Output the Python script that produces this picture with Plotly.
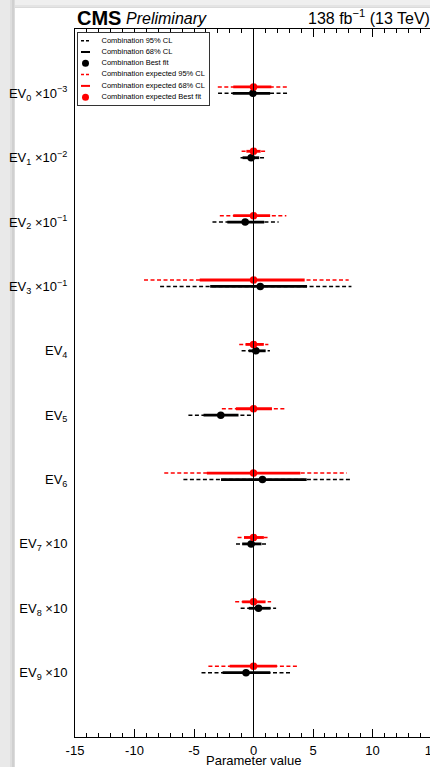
import plotly.graph_objects as go

# ---- data -------------------------------------------------------------
ev_labels = [
    "EV<sub>0</sub> ×10<sup>−3</sup>",
    "EV<sub>1</sub> ×10<sup>−2</sup>",
    "EV<sub>2</sub> ×10<sup>−1</sup>",
    "EV<sub>3</sub> ×10<sup>−1</sup>",
    "EV<sub>4</sub>",
    "EV<sub>5</sub>",
    "EV<sub>6</sub>",
    "EV<sub>7</sub> ×10",
    "EV<sub>8</sub> ×10",
    "EV<sub>9</sub> ×10",
]

# observed combination
obs_best = [-0.05, -0.20, -0.70, 0.57, 0.20, -2.75, 0.75, -0.20, 0.42, -0.63]
obs_lo68 = [-1.75, -0.92, -2.20, -3.64, -0.40, -4.20, -2.73, -0.95, -0.40, -2.60]
obs_hi68 = [1.40, 0.48, 0.90, 4.50, 1.02, -1.26, 4.47, 0.67, 1.43, 1.41]
obs_lo95 = [-2.98, -1.09, -3.45, -7.85, -1.00, -5.47, -5.89, -1.47, -1.08, -4.37]
obs_hi95 = [2.84, 0.90, 2.11, 8.23, 1.38, -0.10, 8.15, 1.16, 1.90, 3.27]

# expected combination
exp_best = [0.0, 0.0, 0.0, 0.0, 0.0, 0.0, 0.0, 0.0, 0.0, 0.0]
exp_lo68 = [-1.70, -0.60, -1.70, -4.52, -0.67, -1.48, -3.92, -0.80, -0.95, -2.00]
exp_hi68 = [1.50, 0.60, 1.40, 4.30, 0.87, 1.55, 3.94, 0.87, 1.01, 1.97]
exp_lo95 = [-3.00, -1.00, -2.83, -9.20, -1.20, -2.66, -7.50, -1.34, -1.54, -3.79]
exp_hi95 = [2.83, 1.05, 2.76, 8.00, 1.25, 2.76, 7.84, 1.34, 1.48, 3.83]

x_tick_vals = [-15, -10, -5, 0, 5, 10, 15]
x_tick_text = ["-15", "-10", "-5", "0", "5", "10", "15"]

legend_labels = [
    "Combination 95% CL",
    "Combination 68% CL",
    "Combination Best fit",
    "Combination expected 95% CL",
    "Combination expected 68% CL",
    "Combination expected Best fit",
]

# ---- geometry ---------------------------------------------------------
W, H = 450, 767
ML, MR, MT, MB = 75, 18, 29, 30
PW = W - ML - MR
PH = H - MT - MB
FONT = "Liberation Sans, Arial, Helvetica, sans-serif"
DASH = "4px,2.5px"


def paper_x(px):
    return (px - ML) / PW


def paper_y(py):
    return (H - MB - py) / PH


n = len(ev_labels)
obs_y = [i + 1 for i in range(n)]
exp_y = [y - 0.1 for y in obs_y]


def segments(lo, hi, ys):
    xs, yy = [], []
    for a, b, y in zip(lo, hi, ys):
        xs += [a, b, None]
        yy += [y, y, None]
    return xs, yy


fig = go.Figure()

for lo95, hi95, lo68, hi68, best, ys, col in [
    (obs_lo95, obs_hi95, obs_lo68, obs_hi68, obs_best, obs_y, "black"),
    (exp_lo95, exp_hi95, exp_lo68, exp_hi68, exp_best, exp_y, "#ff0000"),
]:
    sx, sy = segments(lo95, hi95, ys)
    fig.add_trace(go.Scatter(x=sx, y=sy, mode="lines",
                             line=dict(color=col, width=1.5, dash=DASH),
                             showlegend=False, hoverinfo="skip"))
    sx, sy = segments(lo68, hi68, ys)
    fig.add_trace(go.Scatter(x=sx, y=sy, mode="lines",
                             line=dict(color=col, width=2.8),
                             showlegend=False, hoverinfo="skip"))
    fig.add_trace(go.Scatter(x=best, y=ys, mode="markers",
                             marker=dict(color=col, size=7.5),
                             showlegend=False))

# ---- legend box drawn in its own small subplot ------------------------
LEG_W, LEG_H = 131, 72
rows = [7.7 + 11.3 * i for i in range(6)]
sym_x0, sym_x1, sym_xc, txt_x = 3, 12, 7.5, 23.5
leg_styles = [
    ("black", "dash"), ("black", "solid"), ("black", "dot"),
    ("#ff0000", "dash"), ("#ff0000", "solid"), ("#ff0000", "dot"),
]
for (col, kind), ry in zip(leg_styles, rows):
    if kind == "dot":
        fig.add_trace(go.Scatter(x=[sym_xc], y=[ry], mode="markers",
                                 marker=dict(color=col, size=7),
                                 xaxis="x2", yaxis="y2", showlegend=False,
                                 hoverinfo="skip"))
    else:
        fig.add_trace(go.Scatter(x=[sym_x0, sym_x1], y=[ry, ry], mode="lines",
                                 line=dict(color=col,
                                           width=1.5 if kind == "dash" else 2,
                                           dash="3px,2px" if kind == "dash" else "solid"),
                                 xaxis="x2", yaxis="y2", showlegend=False,
                                 hoverinfo="skip"))
fig.add_trace(go.Scatter(x=[txt_x] * len(rows), y=rows, mode="text",
                         text=legend_labels, textposition="middle right",
                         textfont=dict(size=7.5, family=FONT, color="#000000"),
                         xaxis="x2", yaxis="y2", showlegend=False,
                         hoverinfo="skip"))

# ---- page shadow strips -----------------------------------------------
shapes = []
for x0, x1, c in [(0, 10, "#e9e9e9"), (10, 12, "#dedede"),
                  (12, 14, "#d0d0d0"), (14, 15, "#dcdcdc")]:
    shapes.append(dict(type="rect", xref="paper", yref="paper",
                       x0=paper_x(x0), x1=paper_x(x1),
                       y0=paper_y(H), y1=paper_y(0),
                       fillcolor=c, line=dict(width=0), layer="below"))
for y0, y1, c in [(0, 5, "#efefef"), (5, 7, "#e4e4e4"), (7, 8, "#dadada")]:
    shapes.append(dict(type="rect", xref="paper", yref="paper",
                       x0=paper_x(15), x1=paper_x(W),
                       y0=paper_y(y1), y1=paper_y(y0),
                       fillcolor=c, line=dict(width=0), layer="below"))
# vertical reference line at zero
shapes.append(dict(type="line", xref="x", yref="paper", x0=0, x1=0, y0=0, y1=1,
                   line=dict(color="black", width=1)))

annotations = [
    dict(text="<b>CMS</b>", x=paper_x(75), y=paper_y(17.5), xref="paper", yref="paper",
         xanchor="left", yanchor="middle", showarrow=False,
         font=dict(size=20, family=FONT, color="black")),
    dict(text="<i>Preliminary</i>", x=paper_x(124), y=paper_y(18.3), xref="paper", yref="paper",
         xanchor="left", yanchor="middle", showarrow=False,
         font=dict(size=16, family=FONT, color="black")),
    dict(text="138 fb<sup>−1</sup> (13 TeV)", x=1, y=paper_y(17), xref="paper", yref="paper",
         xanchor="right", yanchor="middle", showarrow=False,
         font=dict(size=16, family=FONT, color="black")),
    dict(text="Parameter value", x=0.5, y=paper_y(761), xref="paper", yref="paper",
         xanchor="center", yanchor="middle", showarrow=False,
         font=dict(size=13, family=FONT, color="black")),
]

fig.update_layout(
    width=W, height=H,
    margin=dict(l=ML, r=MR, t=MT, b=MB, autoexpand=False),
    paper_bgcolor="white", plot_bgcolor="white",
    font=dict(family=FONT, color="black"),
    showlegend=False,
    shapes=shapes,
    annotations=annotations,
    xaxis=dict(range=[-15, 15], tickmode="array", tickvals=x_tick_vals,
               ticktext=x_tick_text, ticks="inside", ticklen=8, tickwidth=1,
               tickcolor="black", showline=True, linecolor="black", linewidth=1,
               mirror="allticks", showgrid=False, zeroline=False, automargin=False,
               ticklabelstandoff=1,
               tickfont=dict(size=13, family=FONT, color="black"),
               minor=dict(tickmode="linear", tick0=-15, dtick=1, ticks="inside",
                          ticklen=4, tickwidth=1, tickcolor="black", showgrid=False)),
    yaxis=dict(range=[n + 1, 0], tickmode="array", tickvals=obs_y, ticktext=ev_labels,
               ticks="", showline=True, linecolor="black", linewidth=1, mirror=True,
               showgrid=False, zeroline=False, automargin=False, ticklabelstandoff=4,
               tickfont=dict(size=13, family=FONT, color="black")),
    xaxis2=dict(domain=[paper_x(78), paper_x(78 + LEG_W)], range=[0, LEG_W],
                anchor="y2", showline=True, mirror=True, linecolor="#333333",
                linewidth=1, showticklabels=False, ticks="", showgrid=False,
                zeroline=False, fixedrange=True, automargin=False),
    yaxis2=dict(domain=[paper_y(33 + LEG_H), paper_y(33)], range=[LEG_H, 0],
                anchor="x2", showline=True, mirror=True, linecolor="#333333",
                linewidth=1, showticklabels=False, ticks="", showgrid=False,
                zeroline=False, fixedrange=True, automargin=False),
)

fig.write_html(
    "out.html",
    post_script="document.documentElement.style.overflow='hidden';"
                "document.body.style.overflow='hidden';",
)
